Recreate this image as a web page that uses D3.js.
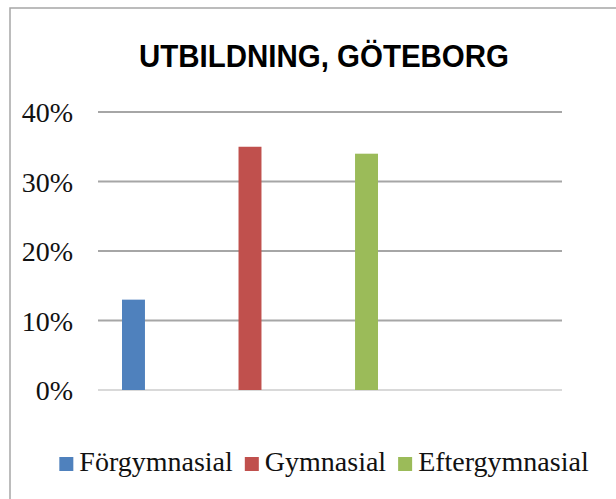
<!DOCTYPE html>
<html>
<head>
<meta charset="utf-8">
<script src="https://cdn.jsdelivr.net/npm/d3@7.9.0/dist/d3.min.js"></script>
<style>
  html, body { margin: 0; padding: 0; background: #fff; }
  svg { display: block; }
</style>
</head>
<body>
<svg id="chart" width="616" height="499"></svg>
<script>
const title = "UTBILDNING, GÖTEBORG";
const series = ["Förgymnasial", "Gymnasial", "Eftergymnasial"];
const values = [0.13, 0.35, 0.34];
const colors = ["#4f81bd", "#c0504d", "#9bbb59"];
const yTicks = [0, 0.1, 0.2, 0.3, 0.4];

const svg = d3.select("#chart");

// chart frame (runs off the right and bottom edges)
svg.append("rect")
  .attr("x", 10)
  .attr("y", 8)
  .attr("width", 640)
  .attr("height", 520)
  .attr("fill", "#fff")
  .attr("stroke", "#a6a6a6")
  .attr("stroke-width", 1.5);

const plot = { left: 98, right: 562, top: 112, bottom: 390 };

const y = d3.scaleLinear().domain([0, 0.4]).range([plot.bottom, plot.top]);

const x = d3.scaleBand()
  .domain(series)
  .range([plot.left, 402])
  .paddingInner(0.803)
  .paddingOuter(0.206);

// gridlines
svg.append("g")
  .selectAll("line")
  .data(yTicks)
  .join("line")
  .attr("x1", plot.left)
  .attr("x2", plot.right)
  .attr("y1", (d) => y(d))
  .attr("y2", (d) => y(d))
  .attr("stroke", (d) => (d === 0 ? "#d9d9d9" : "#a6a6a6"))
  .attr("stroke-width", 2);

// y axis labels
const yAxis = svg.append("g")
  .attr("transform", `translate(73,0)`)
  .call(d3.axisLeft(y).tickValues(yTicks).tickFormat(d3.format(".0%")).tickSize(0).tickPadding(0));
yAxis.select(".domain").remove();
yAxis.selectAll("text")
  .attr("font-family", "'Liberation Serif', 'DejaVu Serif', serif")
  .attr("font-size", 28)
  .attr("fill", "#111")
  .attr("dy", "0.34em");

// bars
svg.append("g")
  .selectAll("rect")
  .data(series)
  .join("rect")
  .attr("x", (d) => x(d))
  .attr("width", x.bandwidth())
  .attr("y", (d, i) => y(values[i]))
  .attr("height", (d, i) => y(0) - y(values[i]))
  .attr("fill", (d, i) => colors[i]);

// title
svg.append("text")
  .attr("x", 324)
  .attr("y", 67)
  .attr("text-anchor", "middle")
  .attr("font-family", "'Liberation Sans', Arial, sans-serif")
  .attr("font-weight", "bold")
  .attr("font-size", 31)
  .attr("textLength", 370)
  .attr("lengthAdjust", "spacingAndGlyphs")
  .attr("fill", "#000")
  .text(title);

// legend
const legend = svg.append("g");
let cursor = 0;
series.forEach((s, i) => {
  const item = legend.append("g").attr("transform", `translate(${cursor},0)`);
  item.append("rect")
    .attr("x", 0)
    .attr("y", 457)
    .attr("width", 14)
    .attr("height", 14)
    .attr("fill", colors[i]);
  const t = item.append("text")
    .attr("x", 20)
    .attr("y", 471)
    .attr("font-family", "'Liberation Serif', 'DejaVu Serif', serif")
    .attr("font-size", 28)
    .attr("fill", "#111")
    .text(s);
  cursor += 20 + t.node().getComputedTextLength() + 12;
});
const legendWidth = cursor - 12;
legend.attr("transform", `translate(${324 - legendWidth / 2},0)`);
</script>
</body>
</html>
